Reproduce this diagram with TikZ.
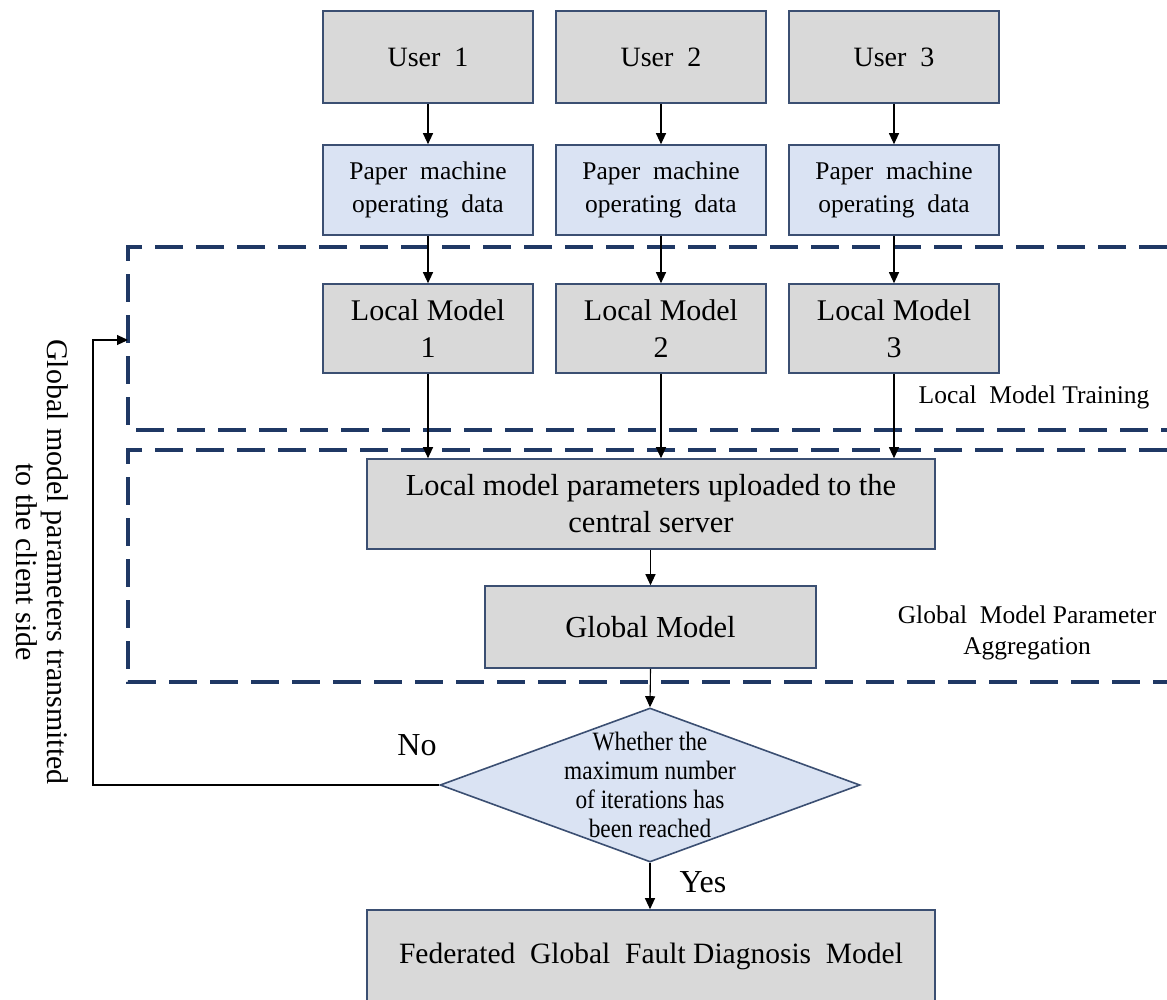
\documentclass[tikz,border=0pt]{standalone}
\usepackage{fontspec}
\setmainfont{Liberation Serif}
\usetikzlibrary{arrows.meta,shapes.geometric}
\definecolor{boxgray}{HTML}{D9D9D9}
\definecolor{boxblue}{HTML}{DAE3F3}
\definecolor{boxedge}{HTML}{3B4F72}
\definecolor{dashnavy}{HTML}{1F3864}
\newcommand{\fs}[2]{\fontsize{#1}{#2}\selectfont}
\tikzset{
  x=1pt, y=-1pt,
  graybox/.style={draw=boxedge, line width=1.6pt, fill=boxgray, rectangle,
    inner sep=0pt, align=center},
  bluebox/.style={graybox, fill=boxblue},
  arr/.style={draw=black, line width=1.1pt, -{Triangle[length=11pt,width=10pt]}},
  zone/.style={draw=dashnavy, line width=3.6pt, dash pattern=on 28pt off 13pt},
  lbl/.style={inner sep=0pt, align=center, text=black},
}
\begin{document}
\begin{tikzpicture}
\useasboundingbox (0,0) rectangle (1167,999);

% dashed zones (open on the right)
\draw[zone] (1167,247) -- (128,247) -- (128,430) -- (1167,430);
\draw[zone] (1167,450) -- (128,450) -- (128,682) -- (1167,682);
\node[lbl, font=\fs{25.5}{31}] (zlocal) at (1034,397) {Local\ \ Model Training};
\node[lbl, font=\fs{25.5}{31}] (zglobal) at (1027,633) {Global\ \ Model Parameter\\Aggregation};

% users
\node[graybox, minimum width=210pt, minimum height=92pt, font=\fs{28}{32}] (u1) at (428,57) {User\ \ 1};
\node[graybox, minimum width=210pt, minimum height=92pt, font=\fs{28}{32}] (u2) at (661,57) {User\ \ 2};
\node[graybox, minimum width=210pt, minimum height=92pt, font=\fs{28}{32}] (u3) at (894,57) {User\ \ 3};

% operating data
\node[bluebox, minimum width=210pt, minimum height=90pt, font=\fs{25.5}{33}] (d1) at (428,190) {Paper\ \ machine\\operating\ \ data};
\node[bluebox, minimum width=210pt, minimum height=90pt, font=\fs{25.5}{33}] (d2) at (661,190) {Paper\ \ machine\\operating\ \ data};
\node[bluebox, minimum width=210pt, minimum height=90pt, font=\fs{25.5}{33}] (d3) at (894,190) {Paper\ \ machine\\operating\ \ data};

% local models
\node[graybox, minimum width=210pt, minimum height=89pt, font=\fs{30}{37}] (m1) at (428,328.5) {Local Model\\1};
\node[graybox, minimum width=210pt, minimum height=89pt, font=\fs{30}{37}] (m2) at (661,328.5) {Local Model\\2};
\node[graybox, minimum width=210pt, minimum height=89pt, font=\fs{30}{37}] (m3) at (894,328.5) {Local Model\\3};

% aggregation
\node[graybox, minimum width=568pt, minimum height=90pt, font=\fs{30.5}{37}] (up) at (651,504) {Local\ model\ parameters\ uploaded\ to\ the\\central\ server};
\node[graybox, minimum width=331pt, minimum height=82pt, font=\fs{30.5}{34}] (gm) at (650.5,627) {Global Model};

% decision
\node[draw=boxedge, line width=1.6pt, fill=boxblue, diamond, inner sep=0pt,
      minimum width=420pt, minimum height=154pt] (dia) at (650,785) {};
\node[lbl, font=\fs{26.5}{29}] (diatext) at ([yshift=-3pt]dia.center)
  {\scalebox{0.88}[1]{\begin{tabular}{@{}c@{}}Whether the\\maximum number\\of iterations has\\been reached\end{tabular}}};

% final model
\node[graybox, minimum width=568pt, minimum height=93pt, font=\fs{29.5}{34}] (fin) at (651,956.5) {Federated\ \ Global\ \ Fault\ Diagnosis\ \ Model};

% branch labels
\node[lbl, font=\fs{32}{36}] (no) at (417,745) {No};
\node[lbl, font=\fs{32}{36}] (yes) at (703,882) {Yes};

% feedback label
\node[lbl, font=\fs{30}{31}, rotate=-90] (fbtext) at (42,562)
  {Global\ model\ parameters\ transmitted\\to\ the\ client\ side};

% connectors
\foreach \i in {1,2,3}{
  \draw[arr] (u\i.south) -- (d\i.north);
  \draw[arr] (d\i.south) -- (m\i.north);
  \draw[arr] (m\i.south) -- (m\i.south |- up.north);
}
\draw[arr] (up.south -| gm.north) -- (gm.north);
\draw[arr] (gm.south) -- (dia.north);
\draw[arr] (dia.south) -- (dia.south |- fin.north);

\coordinate (fbturn) at (93,785);
\coordinate (fbin) at (128,340);
\draw[arr] (dia.west) -- (fbturn) |- (fbin);
\end{tikzpicture}
\end{document}
